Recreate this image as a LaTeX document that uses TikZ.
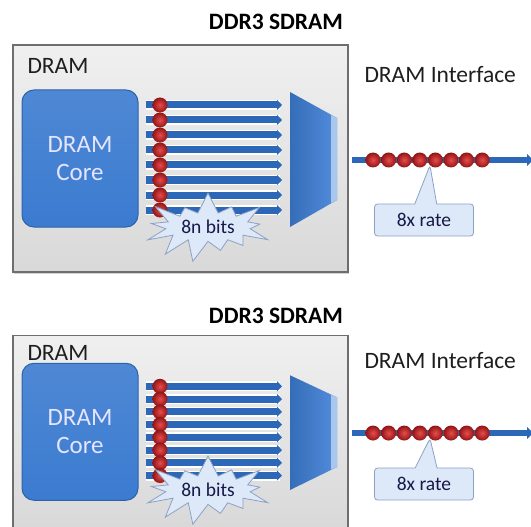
\documentclass[tikz,border=0pt]{standalone}
\usepackage{fontspec}
\setmainfont{Carlito}
\usetikzlibrary{positioning, calc, arrows.meta, shapes.symbols, shapes.callouts, shadows}
\definecolor{chipedge}{HTML}{6E6E6E}
\definecolor{coreblue}{HTML}{3B7BD0}
\definecolor{coreedge}{HTML}{2E62A8}
\definecolor{laneblue}{HTML}{2C67B8}
\definecolor{muxblue}{HTML}{3F80D8}
\definecolor{ballred}{HTML}{E02020}
\definecolor{burstblue}{HTML}{DDE9F8}
\definecolor{burstedge}{HTML}{8BA2C4}
\definecolor{inktext}{HTML}{1E1E1E}
\tikzset{
  titletext/.style={font=\fontsize{23.5}{26}\selectfont\bfseries, text=black},
  labeltext/.style={font=\fontsize{23.5}{26}\selectfont, text=inktext},
  smalltext/.style={font=\fontsize{19.5}{21}\selectfont, text=inktext!80!blue}
}
\tikzset{
  chipbox/.style={draw=chipedge, line width=1.5pt, top color=gray!12, bottom color=gray!30,
    drop shadow={opacity=0.35, shadow xshift=1pt, shadow yshift=-2pt}},
  corebox/.style={draw=coreedge, line width=1pt, top color=coreblue!90!white, bottom color=coreblue,
    rounded corners=12pt, minimum width=116pt, minimum height=137pt, align=center,
    font=\fontsize{25}{28}\selectfont, text=white!90!blue},
  laneback/.style={draw=white, line width=10pt},
  lane/.style={draw=laneblue, line width=7pt, -{Triangle[length=5pt, width=10pt]}},
  ball/.style={circle, inner sep=0pt, minimum size=15pt, shading=radial,
    inner color=ballred!80!white, outer color=ballred!65!black},
  busline/.style={draw=laneblue, line width=6pt, -{Triangle[length=6pt, width=12pt]}},
  burst/.style={starburst, draw=burstedge, fill=burstblue, line width=0.8pt, random starburst=40,
    starburst points=13, starburst point height=22pt, minimum width=110pt, minimum height=40pt,
    smalltext},
  ratecallout/.style={rectangle callout, draw=burstedge, fill=burstblue, line width=0.8pt,
    rounded corners=3pt, minimum width=99pt, minimum height=32pt, callout pointer width=22pt,
    smalltext}
}
\newcommand{\ddrpanel}{%
  \node[titletext] (title) at (276,-25) {DDR3 SDRAM};
  % chip outline
  \draw[chipbox] (13,-2) rectangle (348,225);
  \node[labeltext, anchor=west] (dram) at (24,19) {DRAM};
  \node[corebox] (core) at (80,111.5) {DRAM\\Core};
  % parallel lanes into the mux
  \coordinate (muxin) at (290,112.5);
  \foreach \y in {58,73,...,163} {
    \draw[laneback, shorten <=7pt, shorten >=10pt] (core.east |- 0,\y) -- (muxin |- 0,\y);
    \draw[lane, shorten <=7pt, shorten >=8pt] (core.east |- 0,\y) -- (muxin |- 0,\y);
  }
  \foreach \i in {0,...,7}
    \node[ball] (lanebit\i) at (160,58+15*\i) {};
  \shade[left color=muxblue!85!black, right color=muxblue!90!white]
    (290,45) -- (337,71) -- (337,153) -- (290,180) -- cycle;
  \fill[muxblue!45!white] (331,68) -- (337,71) -- (337,153) -- (331,156) -- cycle;
  \node[burst] (bits) at (208,180) {8n bits};
  % interface side
  \node[labeltext, anchor=west] (iface) at (361,28) {DRAM Interface};
  \coordinate (busin) at (352,113);
  \coordinate (busout) at (533,113);
  \draw[busline] (busin) -- (busout);
  \foreach \i in {0,...,7}
    \node[ball] (bit\i) at (373+15.6*\i,113) {};
  \node[ratecallout, callout absolute pointer={(bit4.south west)}] (rate) at (424,173) {8x rate};
}

\begin{document}
\begin{tikzpicture}[x=1pt, y=-1pt]
  \useasboundingbox (0,0) rectangle (531,527);
  \clip (0,0) rectangle (531,527);
  \begin{scope}[shift={(0,47)}, name prefix=top-]
    \ddrpanel
  \end{scope}
  \begin{scope}[shift={(0,337)}, yscale=0.85, name prefix=bot-]
    \ddrpanel
  \end{scope}
\end{tikzpicture}
\end{document}
